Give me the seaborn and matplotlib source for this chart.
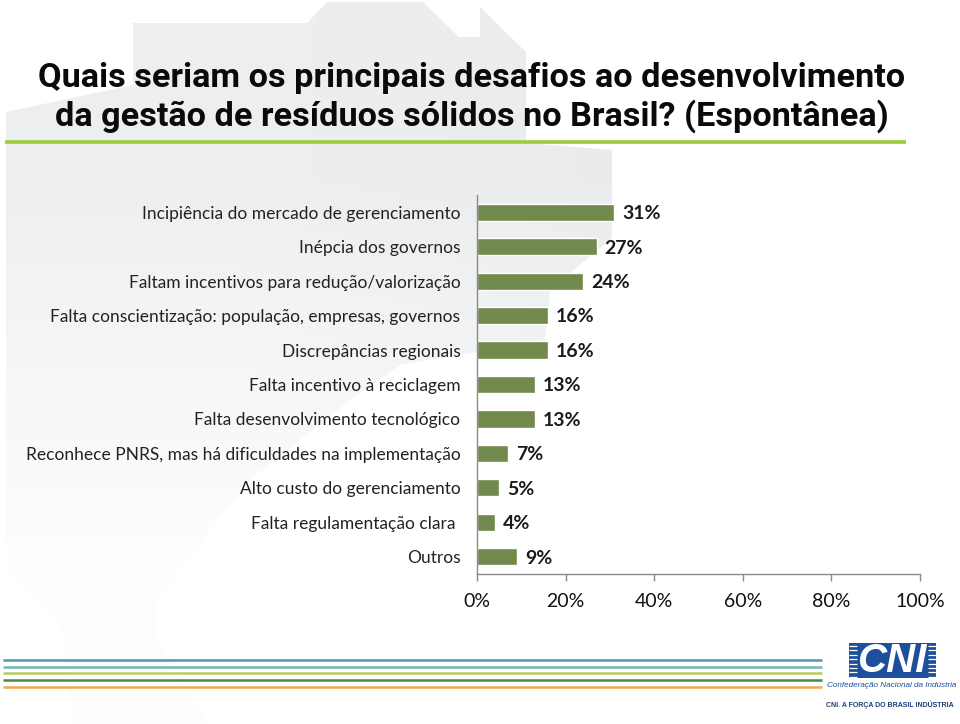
import matplotlib
matplotlib.use("Agg")
import matplotlib.pyplot as plt
import numpy as np
import pandas as pd
import seaborn as sns
from matplotlib.patches import Polygon, Rectangle

categories = [
    "Incipiência do mercado de gerenciamento",
    "Inépcia dos governos",
    "Faltam incentivos para redução/valorização",
    "Falta conscientização: população, empresas, governos",
    "Discrepâncias regionais",
    "Falta incentivo à reciclagem",
    "Falta desenvolvimento tecnológico",
    "Reconhece PNRS, mas há dificuldades na implementação",
    "Alto custo do gerenciamento",
    "Falta regulamentação clara ",
    "Outros",
]
values = [31, 27, 24, 16, 16, 13, 13, 7, 5, 4, 9]
x_ticks = [0, 20, 40, 60, 80, 100]
title_lines = [
    "Quais seriam os principais desafios ao desenvolvimento",
    "da gestão de resíduos sólidos no Brasil? (Espontânea)",
]
stripe_colors = ["#4f94b8", "#6fb8b4", "#b5cf5e", "#3f8f48", "#f2a94a"]

W, H = 960, 724
sns.set_style("white")
plt.rcParams["font.family"] = ["Lato", "DejaVu Sans"]

fig = plt.figure(figsize=(W / 100, H / 100), dpi=100)

# faint map shape behind everything, pixel coords
bg = fig.add_axes([0, 0, 1, 1], zorder=0)
bg.axis("off")
map_shape = [(133, 23), (307, 23), (327, 2), (423, 2), (459, 37), (480, 37), (480, 7), (526, 52),
             (526, 143), (612, 150), (612, 238), (550, 290), (545, 340), (400, 365), (350, 400),
             (250, 480), (155, 600), (155, 640), (209, 724), (74, 724), (61, 627), (6, 567),
             (6, 112), (133, 85)]
grad = np.array([[0.8, 1.0], [0.0, 0.3]])
im = bg.imshow(grad, extent=[0, W, H, 0], aspect="auto", interpolation="bilinear", vmin=0, vmax=1,
               cmap=sns.blend_palette(["#fdfdfd", "#e9ebed"], as_cmap=True))
poly = Polygon(map_shape, closed=True, transform=bg.transData, facecolor="none", edgecolor="none")
bg.add_patch(poly)
im.set_clip_path(poly)
bg.set_xlim(0, W)
bg.set_ylim(H, 0)

# title and rule under it
for line, y in zip(title_lines, [78, 116]):
    bg.text(472, y, line, ha="center", va="center", fontsize=24.7, fontweight="bold",
            family="Roboto", color="#0a0a0a")
bg.plot([5, 906], [142, 142], color="#9ccc3c", lw=2.6, solid_capstyle="butt")

# stripes at the bottom
for c, y in zip(stripe_colors, [660, 666.7, 673.3, 680, 686.7]):
    bg.plot([3, 822], [y, y], color=c, lw=1.8, solid_capstyle="butt")

# CNI logo
bg.add_patch(Rectangle((849, 643), 87, 35, facecolor="#1d4f9c", edgecolor="none"))
for y in np.arange(646, 678, 4.4):
    bg.plot([849, 857], [y, y], color="white", lw=0.9, solid_capstyle="butt")
    bg.plot([928, 936], [y, y], color="white", lw=0.9, solid_capstyle="butt")
bg.text(892, 661, "CNI", ha="center", va="center", fontsize=29, fontweight="bold", style="italic",
        family="Liberation Sans", color="white")
bg.text(892, 685.5, "Confederação Nacional da Indústria", ha="center", va="center", fontsize=5.9,
        style="italic", family="Liberation Sans", color="#1d4f9c")
bg.text(890, 705, "CNI. A FORÇA DO BRASIL INDÚSTRIA", ha="center", va="center", fontsize=5,
        fontweight="bold", family="Liberation Sans", color="#1d3f7c")

# chart axes
df = pd.DataFrame({"categoria": categories, "valor": values})
ax = fig.add_axes([477 / W, 1 - 574 / H, (920 - 477) / W, (574 - 195) / H], zorder=2)
ax.patch.set_alpha(0)
sns.barplot(ax=ax, data=df, y="categoria", x="valor", color="#71894d", saturation=1, width=0.5,
            orient="h")
ax.set_xlim(0, 100)
ax.set_ylim(len(categories) - 0.5, -0.5)
ax.set_xlabel("")
ax.set_ylabel("")
ax.set_xticks(x_ticks)
ax.set_xticklabels([f"{t}%" for t in x_ticks])
ax.tick_params(axis="x", length=5, color="#8a8a8a", width=1, labelsize=14, pad=9, labelcolor="#111111",
               bottom=True)
ax.tick_params(axis="y", length=0, labelsize=12.5, pad=12, labelcolor="#222222")
for s in ["top", "right"]:
    ax.spines[s].set_visible(False)
for s in ["left", "bottom"]:
    ax.spines[s].set_color("#8a8a8a")
    ax.spines[s].set_linewidth(1)

for i, v in enumerate(values):
    ax.annotate(f"{v}%", (v, i), xytext=(5.8, -1), textcoords="offset points", va="center", ha="left",
                fontsize=14, fontweight="bold", color="#1a1a1a")

fig.savefig("out.png", dpi=100)
